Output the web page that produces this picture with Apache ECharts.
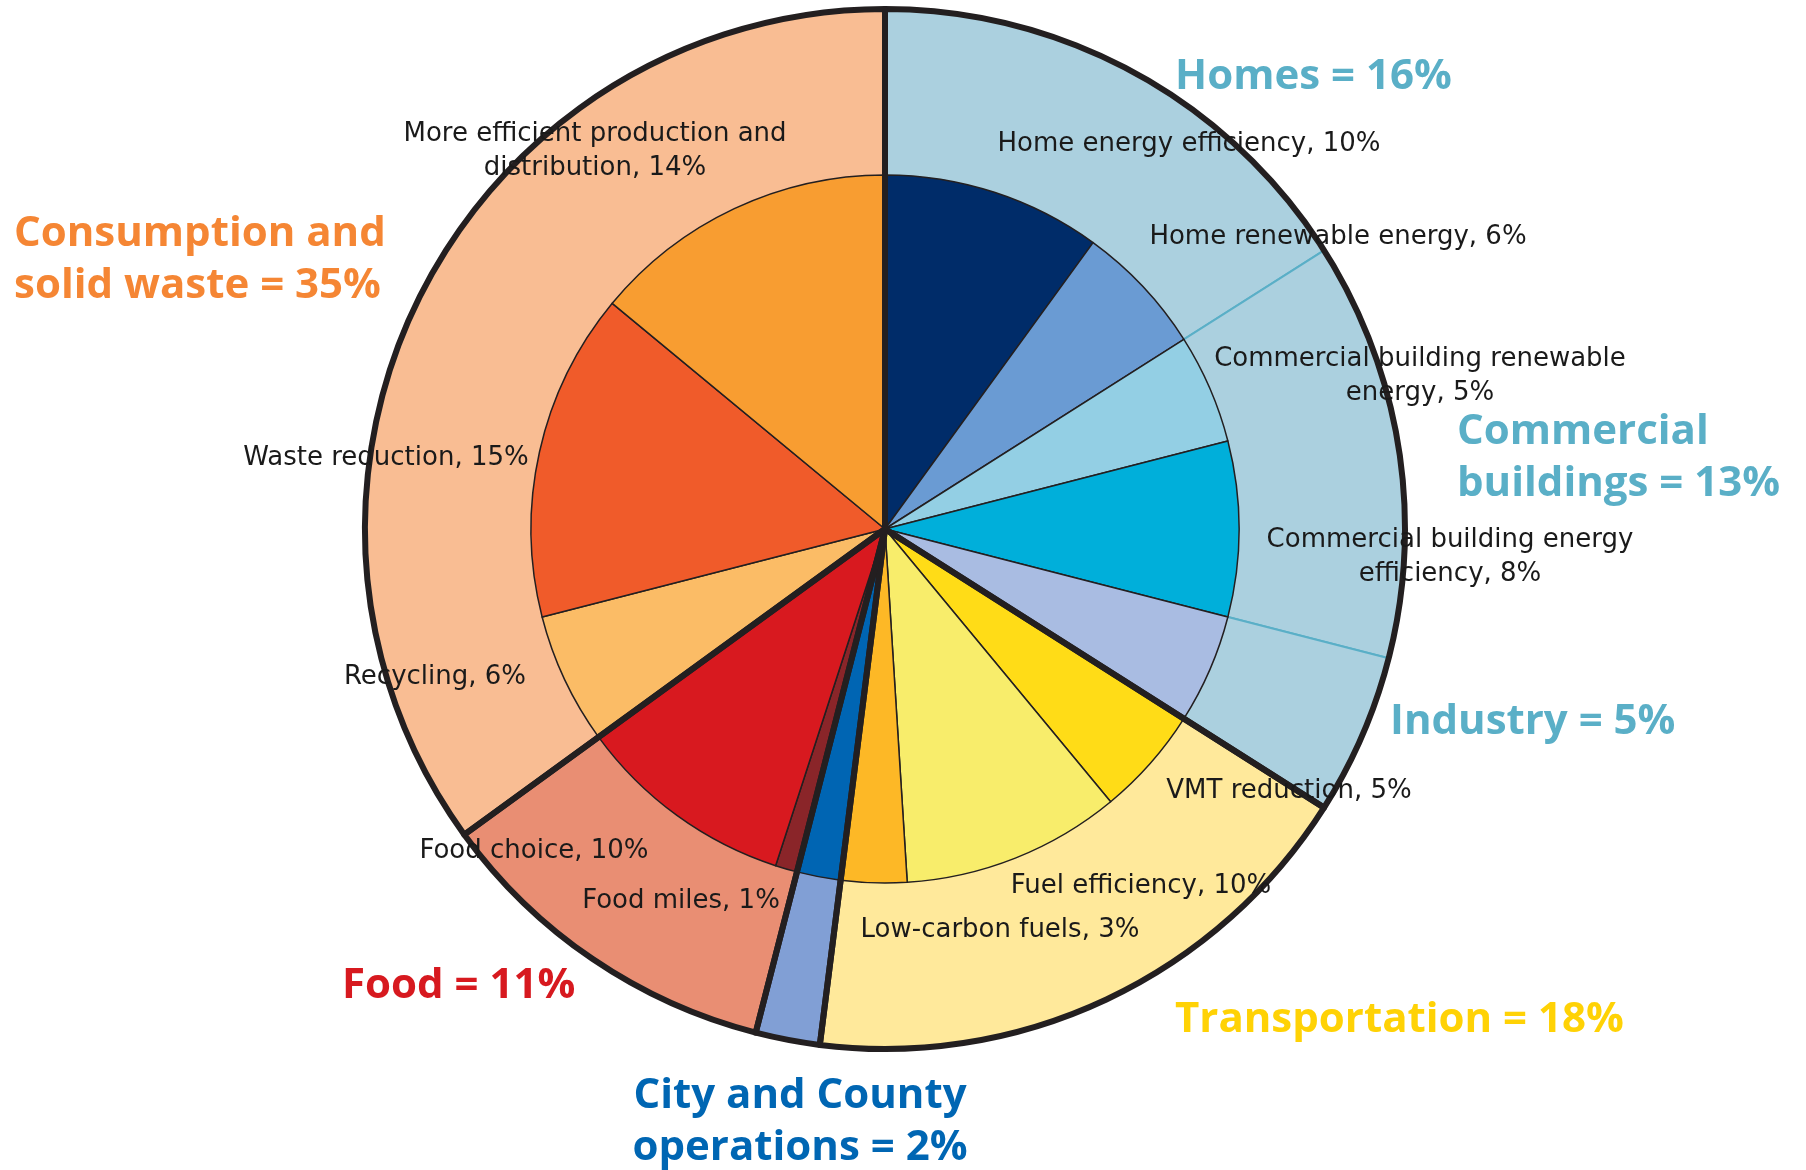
<!DOCTYPE html>
<html>
<head>
<meta charset="utf-8">
<title>Emission reductions by sector</title>
<script src="https://cdn.jsdelivr.net/npm/echarts@6/dist/echarts.min.js"></script>
<style>
    html, body { margin: 0; padding: 0; background: #fff; }
    #main { width: 1806px; height: 1170px; }
</style>
</head>
<body>
<div id="main"></div>
<script>
// sectors, outer ring (percent of total)
var groupNames = ['Homes', 'Commercial\nbuildings', 'Industry', 'Transportation',
    'City and County\noperations', 'Food', 'Consumption and\nsolid waste'];
var groupValues = [16, 13, 5, 18, 2, 11, 35];
var groupFamily = ['buildings', 'buildings', 'buildings', 'transport', 'city', 'food', 'consumption'];

// strategies, inner pie (percent of total)
var subNames = ['Home energy efficiency', 'Home renewable energy', 'Commercial building renewable\nenergy',
    'Commercial building energy\nefficiency', 'Industry', 'VMT reduction', 'Fuel efficiency',
    'Low-carbon fuels', 'City and County operations', 'Food miles', 'Food choice', 'Recycling',
    'Waste reduction', 'More efficient production and\ndistribution'];
var subValues = [10, 6, 5, 8, 5, 5, 10, 3, 2, 1, 10, 6, 15, 14];

// styles
var groupColors = ['#abd0df', '#abd0df', '#abd0df', '#ffe99b', '#819fd5', '#e98e73', '#f9bd93'];
var groupTextColors = ['#5aafc7', '#5aafc7', '#5aafc7', '#ffd205', '#0066b3', '#d7191f', '#f58634'];
var subColors = ['#002c69', '#6a9bd3', '#93cfe4', '#00afda', '#a9bce2', '#ffdc17', '#f8ed6b',
    '#fdb826', '#0065b3', '#8a2529', '#d8191f', '#fbbc66', '#f05b2a', '#f89d31'];

var cx = 885, cy = 529, R = 520, r = 354;

// label anchors (px)
var groupLabelPos = [
    [1175, 77, 'left'], [1457, 458, 'left'], [1390, 722, 'left'], [1175, 1020, 'left'],
    [800, 1122, 'center'], [342, 986, 'left'], [14, 260, 'left']
];
var subLabelPos = [
    [1189, 144], [1338, 237], [1420, 376], [1450, 557], null, [1289, 791], [1141, 886],
    [1000, 930], null, [681, 901], [534, 851], [435, 677], [386, 458], [595, 151]
];

// thick frame: neighbouring building sectors share one wedge
var frameData = [];
groupValues.forEach(function (v, i) {
    var last = frameData[frameData.length - 1];
    if (last && last.name === groupFamily[i]) {
        last.value += v;
    } else {
        frameData.push({name: groupFamily[i], value: v});
    }
});

var myChart = echarts.init(document.getElementById('main'));

var option = {
    animation: false,
    series: [
        {
            name: 'sectors',
            type: 'pie',
            center: [cx, cy],
            radius: [0, R],
            startAngle: 90,
            clockwise: true,
            silent: true,
            avoidLabelOverlap: false,
            itemStyle: {borderColor: '#5aafc7', borderWidth: 2, borderJoin: 'round'},
            label: {
                position: 'outside',
                formatter: '{b} = {c}%',
                fontFamily: 'Open Sans',
                fontWeight: 'bold',
                fontSize: 42,
                lineHeight: 52
            },
            labelLine: {show: false},
            labelLayout: function (params) {
                var p = groupLabelPos[params.dataIndex];
                return {x: p[0], y: p[1], align: p[2], verticalAlign: 'middle'};
            },
            data: groupNames.map(function (n, i) {
                return {
                    name: n,
                    value: groupValues[i],
                    itemStyle: {color: groupColors[i]},
                    label: {color: groupTextColors[i]}
                };
            })
        },
        {
            name: 'strategies',
            type: 'pie',
            center: [cx, cy],
            radius: [0, r],
            startAngle: 90,
            clockwise: true,
            silent: true,
            avoidLabelOverlap: false,
            itemStyle: {borderColor: '#231f20', borderWidth: 1.5, borderJoin: 'round'},
            label: {
                position: 'outside',
                formatter: '{b}, {c}%',
                fontFamily: 'DejaVu Sans',
                fontSize: 26,
                lineHeight: 34,
                color: '#1a1a1a'
            },
            labelLine: {show: false},
            labelLayout: function (params) {
                var p = subLabelPos[params.dataIndex];
                if (!p) return {};
                return {x: p[0], y: p[1], align: 'center', verticalAlign: 'middle'};
            },
            data: subNames.map(function (n, i) {
                return {
                    name: n,
                    value: subValues[i],
                    itemStyle: {color: subColors[i]},
                    label: {show: subLabelPos[i] !== null}
                };
            })
        },
        {
            name: 'frame',
            type: 'pie',
            center: [cx, cy],
            radius: [0, R],
            startAngle: 90,
            clockwise: true,
            silent: true,
            label: {show: false},
            labelLine: {show: false},
            itemStyle: {color: 'rgba(0,0,0,0)', borderColor: '#231f20', borderWidth: 6, borderJoin: 'round'},
            data: frameData
        }
    ]
};

myChart.setOption(option);
</script>
</body>
</html>
